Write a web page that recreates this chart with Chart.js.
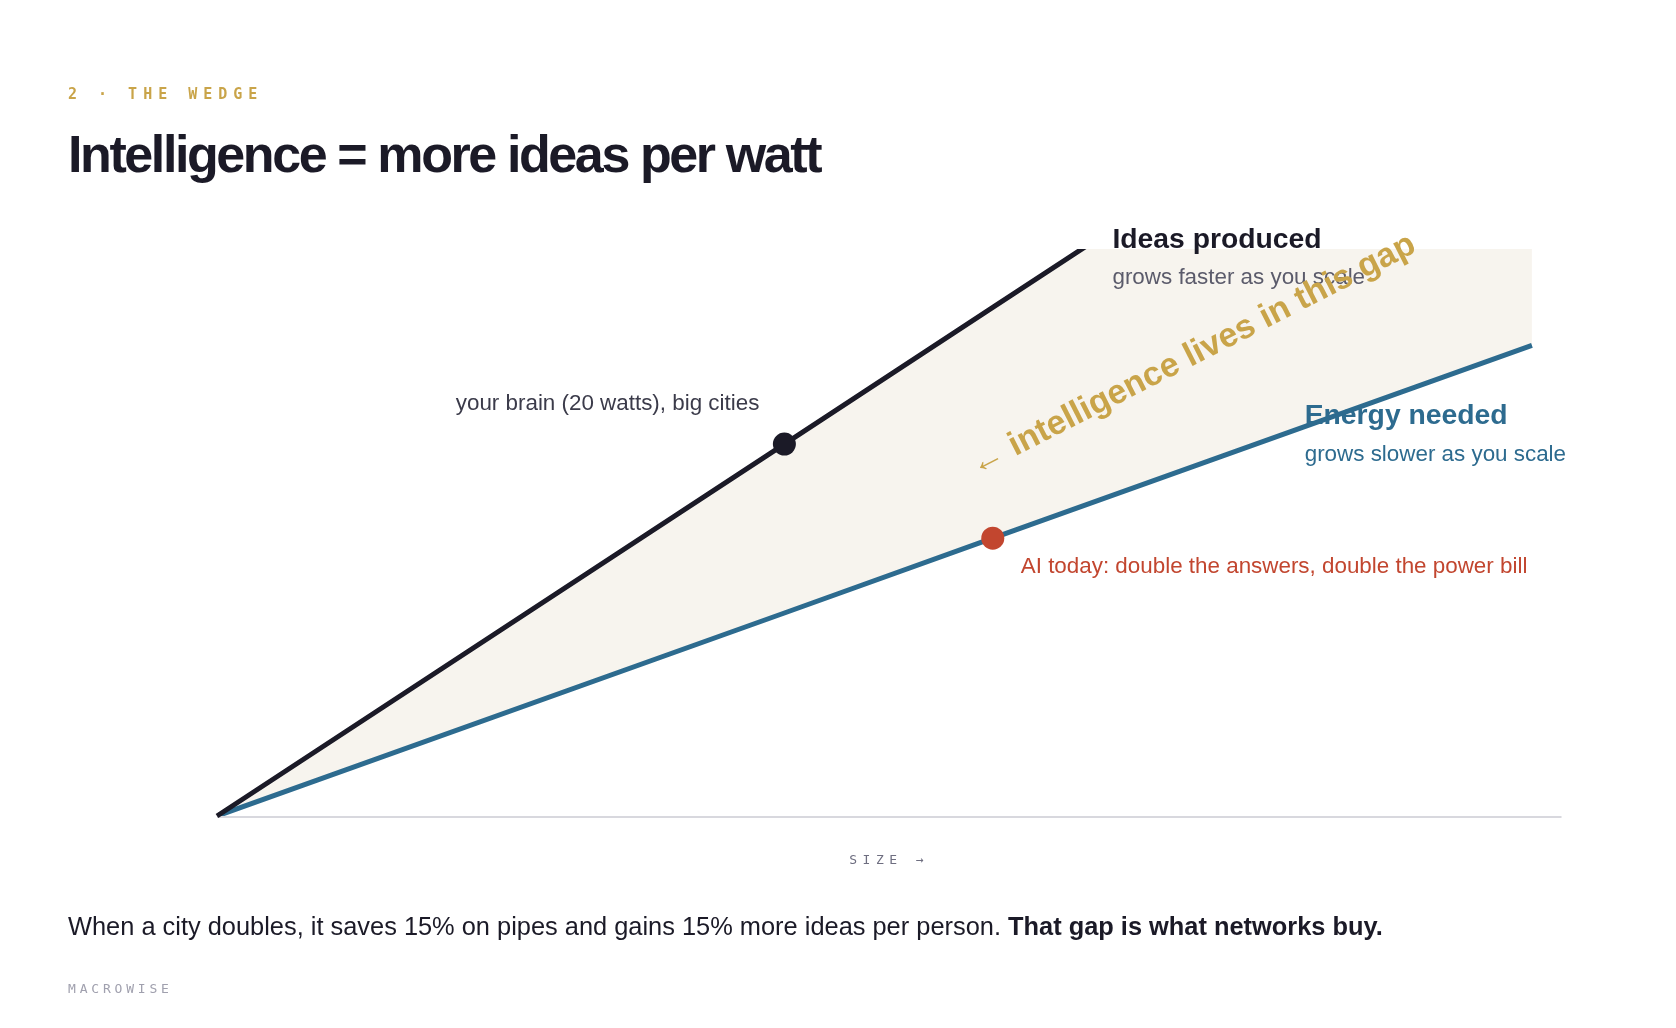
<!DOCTYPE html>
<html>
<head>
<meta charset="utf-8">
<script src="https://cdn.jsdelivr.net/npm/chart.js@4.4.1/dist/chart.umd.min.js"></script>
<style>
  html, body { margin: 0; padding: 0; background: #fff; }
  #page { position: relative; width: 1676px; height: 1028px; overflow: hidden; font-family: "Liberation Sans", Arial, sans-serif; }
  #chart { position: absolute; left: 0; top: 0; }
  .txt { position: absolute; white-space: nowrap; line-height: 1; }
  #kicker { left: 68px; top: 85px; font: bold 15px "DejaVu Sans Mono", monospace; letter-spacing: 6px; color: #c9a449; }
  #title { left: 68px; top: 128px; font-size: 52px; font-weight: bold; letter-spacing: -2.4px; color: #1b1a27; }
  #note { left: 68px; top: 914px; font-size: 25.4px; color: #1b1a27; }
  #note b { font-weight: bold; }
  #brand { left: 68px; top: 981px; font: 13px "DejaVu Sans Mono", monospace; letter-spacing: 3.8px; color: #a0a0ae; }
</style>
</head>
<body>
<div id="page">
  <canvas id="chart" width="1676" height="1028"></canvas>
  <div class="txt" id="kicker">2 · THE WEDGE</div>
  <div class="txt" id="title">Intelligence = more ideas per watt</div>
  <div class="txt" id="note">When a city doubles, it saves 15% on pipes and gains 15% more ideas per person. <b>That gap is what networks buy.</b></div>
  <div class="txt" id="brand">MACROWISE</div>
</div>
<script>
// values (size on x, 0-100 of the plot height on y)
const size = [0, 42.2, 57.7, 97.8];
const ideas = [0, 65.6, 89.7, 152];   // runs off the top, the plot clips it
const energy = [0, 35.8, 49, 83];
const brain = { x: 42.2, y: 65.6 };
const aiToday = { x: 57.7, y: 49 };

const ink = '#1b1a27';
const blue = '#2d6b8f';
const gold = '#c9a449';
const red = '#c2462f';

// text placed in data units, offsets in px
const notes = [
  { text: 'Ideas produced', x: 66.6, y: 100.2, font: 'bold 28.3px "Liberation Sans"', color: ink },
  { text: 'grows faster as you scale', x: 66.6, y: 93.8, font: '22.4px "Liberation Sans"', color: '#5b5b6b' },
  { text: 'Energy needed', x: 80.9, y: 69.1, font: 'bold 28.3px "Liberation Sans"', color: blue },
  { text: 'grows slower as you scale', x: 80.9, y: 62.6, font: '22.4px "Liberation Sans"', color: blue },
  { text: 'your brain (20 watts), big cities', at: brain, dx: -25, dy: -34, align: 'right', font: '22.4px "Liberation Sans"', color: '#3b3b4a' },
  { text: 'AI today: double the answers, double the power bill', at: aiToday, dx: 28, dy: 35, font: '22.4px "Liberation Sans"', color: red },
  { text: '← intelligence lives in this gap', x: 72.9, y: 79.8, align: 'center', angle: -27, font: 'bold 34px "Liberation Sans", "DejaVu Sans"', color: gold }
];

const wedgeDecor = {
  id: 'wedgeDecor',
  beforeDatasetsDraw(chart) {
    const { ctx, chartArea } = chart;
    ctx.save();
    ctx.strokeStyle = '#d8d8de';
    ctx.lineWidth = 2;
    ctx.beginPath();
    ctx.moveTo(chartArea.left, chartArea.bottom + 1);
    ctx.lineTo(chartArea.right, chartArea.bottom + 1);
    ctx.stroke();

    ctx.font = '13px "DejaVu Sans Mono"';
    ctx.fillStyle = '#6e6e80';
    ctx.letterSpacing = '5.5px';
    ctx.textAlign = 'center';
    ctx.fillText('SIZE →', (chartArea.left + chartArea.right) / 2, chartArea.bottom + 48);
    ctx.letterSpacing = '0px';
    ctx.restore();
  },
  afterDatasetsDraw(chart) {
    const { ctx } = chart;
    const xs = chart.scales.x, ys = chart.scales.y;
    notes.forEach(n => {
      const p = n.at || n;
      const px = xs.getPixelForValue(p.x) + (n.dx || 0);
      const py = ys.getPixelForValue(p.y) + (n.dy || 0);
      ctx.save();
      ctx.translate(px, py);
      if (n.angle) ctx.rotate(n.angle * Math.PI / 180);
      ctx.font = n.font;
      ctx.fillStyle = n.color;
      ctx.textAlign = n.align || 'left';
      ctx.textBaseline = 'alphabetic';
      ctx.fillText(n.text, 0, 0);
      ctx.restore();
    });
  }
};

const pts = ys => size.map((x, i) => ({ x: x, y: ys[i] }));

new Chart(document.getElementById('chart'), {
  type: 'line',
  data: {
    datasets: [
      {
        label: 'Ideas produced',
        data: pts(ideas),
        borderColor: ink,
        borderWidth: 5,
        pointRadius: 0,
        fill: 1,
        backgroundColor: '#f7f4ee',
        clip: { left: 10, top: 0, right: 10, bottom: 10 },
        order: 2
      },
      {
        label: 'Energy needed',
        data: pts(energy),
        borderColor: blue,
        borderWidth: 5,
        pointRadius: 0,
        fill: false,
        order: 3
      },
      {
        label: 'your brain',
        data: [brain],
        showLine: false,
        pointRadius: 11.5,
        pointBorderWidth: 0,
        pointBackgroundColor: ink,
        order: 0
      },
      {
        label: 'AI today',
        data: [aiToday],
        showLine: false,
        pointRadius: 11.5,
        pointBorderWidth: 0,
        pointBackgroundColor: red,
        order: 0
      }
    ]
  },
  options: {
    responsive: false,
    animation: false,
    events: [],
    layout: { padding: { left: 217, right: 114.5, top: 249, bottom: 212 } },
    elements: { line: { tension: 0, borderCapStyle: 'butt' } },
    scales: {
      x: { type: 'linear', min: 0, max: 100, display: false },
      y: { min: 0, max: 100, display: false }
    },
    plugins: {
      legend: { display: false },
      tooltip: { enabled: false },
      filler: { drawTime: 'beforeDatasetsDraw' }
    }
  },
  plugins: [wedgeDecor]
});
</script>
</body>
</html>
